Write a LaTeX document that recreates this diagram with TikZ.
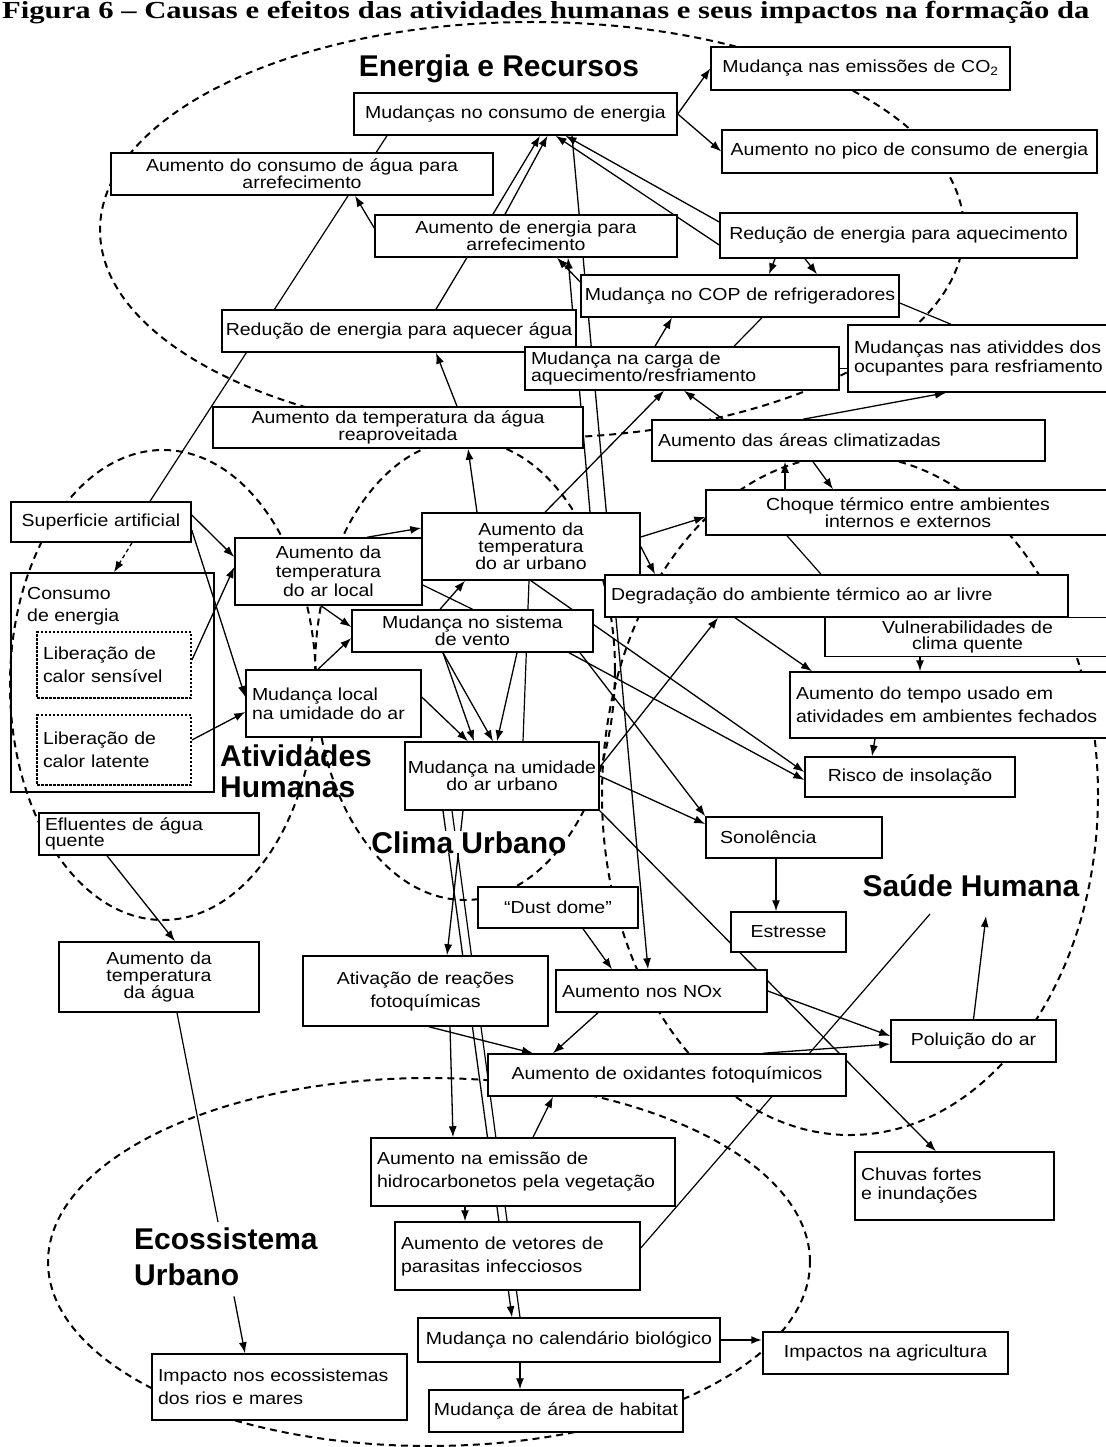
\documentclass[tikz,border=0pt]{standalone}
\usepackage{fontspec}
\setmainfont{Liberation Sans}
\newfontfamily\boxfont{Liberation Sans}[FakeStretch=1.12]
\newfontfamily\capfont{Liberation Serif}[FakeStretch=1.25]
\usetikzlibrary{arrows.meta}
\pgfdeclarelayer{bg}
\pgfsetlayers{bg,main}

\begin{document}
\begin{tikzpicture}[
    x=1pt, y=-1pt,
    box/.style={draw, fill=white, line width=1.5pt, inner xsep=2pt, inner ysep=1pt,
                align=center, font=\boxfont\fontsize{17.4}{19}\selectfont},
    lbox/.style={box, align=left, inner xsep=6pt},
    dotbox/.style={lbox, dash pattern=on 2.5pt off 1.5pt, line width=1.8pt},
    snug/.style={font=\boxfont\fontsize{17.4}{15.5}\selectfont},
    midskip/.style={font=\boxfont\fontsize{17.4}{17}\selectfont},
    airy/.style={font=\boxfont\fontsize{17.4}{23}\selectfont},
    grouplabel/.style={font=\bfseries\fontsize{30}{31}\selectfont, inner sep=0pt, align=left},
    zone/.style={dash pattern=on 7pt off 5pt, line width=2pt},
    arr/.style={-{Latex[length=11pt,width=8pt]}, line width=1.3pt},
    ln/.style={line width=1.2pt}
]
\begin{pgfonlayer}{bg}
\fill[white] (0,0) rectangle (1105,1447);
\end{pgfonlayer}
\useasboundingbox (0,0) rectangle (1105,1447);

\node[font=\capfont\bfseries\fontsize{24.5}{25}\selectfont, anchor=base west, inner sep=0pt] (caption) at (2,19)
  {Figura 6 – Causas e efeitos das atividades humanas e seus impactos na formação da};

% Energia e Recursos
\node[grouplabel, anchor=base] (t_energia) at (499,77) {Energia e Recursos};
\node[box, text width=319pt, minimum height=42pt] (consumo) at (515.5,114) {Mudanças no consumo de energia};
\node[box, text width=295pt, minimum height=43pt] (co2) at (860.5,68.5) {Mudança nas emissões de CO\textsubscript{2}};
\node[box, text width=371pt, minimum height=43pt] (pico) at (909.5,151.5) {Aumento no pico de consumo de energia};
\node[box, snug, text width=378pt, minimum height=42pt] (agua_arref) at (302,174) {Aumento do consumo de água para\\arrefecimento};
\node[box, snug, text width=298pt, minimum height=42pt] (energ_arref) at (526,236) {Aumento de energia para\\arrefecimento};
\node[box, text width=353pt, minimum height=45pt] (red_aquec) at (898.5,235.5) {Redução de energia para aquecimento};
\node[box, text width=314pt, minimum height=42pt] (cop) at (740,296) {Mudança no COP de refrigeradores};
\node[box, text width=350pt, minimum height=42pt] (red_agua) at (399,331) {Redução de energia para aquecer água};
\node[lbox, midskip, text width=302pt, minimum height=43pt] (carga) at (682,368.5) {Mudança na carga de\\aquecimento/resfriamento};
\node[lbox, text width=252pt, minimum height=67pt] (ocup) at (980,358.5) {Mudanças nas atividdes dos\\ocupantes para resfriamento};
\node[box, snug, text width=366pt, minimum height=41pt] (agua_reap) at (398,427.5) {Aumento da temperatura da água\\reaproveitada};
\node[lbox, text width=381pt, minimum height=41pt] (climat) at (848.5,440.5) {Aumento das áreas climatizadas};

% Atividades Humanas
\node[grouplabel, anchor=north west] (t_ativ) at (220,745) {Atividades\\Humanas};
\node[box, text width=176pt, minimum height=40pt] (sup) at (101,522) {Superficie artificial};
\node[draw, line width=1.5pt, minimum width=203pt, minimum height=219pt] (consumo_en) at (112.5,682.5) {};
\node[anchor=north west, align=left, inner sep=0pt, font=\boxfont\fontsize{17.4}{22}\selectfont] (consumo_lbl) at (27,587) {Consumo\\de energia};
\node[dotbox, airy, text width=142pt, minimum height=66pt] (sens) at (114,665) {Liberação de\\calor sensível};
\node[dotbox, airy, text width=142pt, minimum height=70pt] (lat) at (114,750) {Liberação de\\calor latente};
\node[box, text width=183pt, minimum height=67pt] (ar_local) at (328.5,571.5) {Aumento da\\temperatura\\do ar local};
\node[lbox, text width=163pt, minimum height=67pt] (umid_local) at (333.5,703.5) {Mudança local\\na umidade do ar};
\node[lbox, snug, text width=208pt, minimum height=42pt] (efl) at (149,834) {Efluentes de água\\quente};

% Clima Urbano
\node[grouplabel, anchor=base, fill=white] (t_clima) at (469,853) {Clima Urbano};
\node[box, midskip, text width=214pt, minimum height=67pt] (ar_urb) at (531,546.5) {Aumento da\\temperatura\\do ar urbano};
\node[box, snug, text width=237pt, minimum height=42pt] (vento) at (472.5,631) {Mudança no sistema\\de vento};
\node[box, midskip, text width=190pt, minimum height=68pt] (umid_urb) at (502,776) {Mudança na umidade\\do ar urbano};
\node[box, text width=156pt, minimum height=41pt] (dust) at (558,907.5) {“Dust dome”};
\node[box, airy, text width=241pt, minimum height=70pt] (fotoq) at (425.5,991) {Ativação de reações\\fotoquímicas};
\node[lbox, text width=199pt, minimum height=42pt] (nox) at (661.5,991) {Aumento nos NOx};
\node[box, text width=354pt, minimum height=42pt] (oxid) at (667,1075) {Aumento de oxidantes fotoquímicos};

% Saude Humana
\node[grouplabel, anchor=base] (t_saude) at (971,896) {Saúde Humana};
\node[box, snug, text width=400pt, minimum height=45pt] (choque) at (908,512.5) {Choque térmico entre ambientes\\internos e externos};
\node[box, snug, text width=281pt, minimum height=39pt] (vuln) at (967.5,637) {Vulnerabilidades de\\clima quente};
\node[lbox, text width=451pt, minimum height=42pt] (degrad) at (836.5,596) {Degradação do ambiente térmico ao ar livre};
\node[lbox, airy, text width=308pt, minimum height=66pt] (tempo) at (950,705) {Aumento do tempo usado em\\atividades em ambientes fechados};
\node[box, text width=206pt, minimum height=40pt] (risco) at (910,777) {Risco de insolação};
\node[lbox, inner xsep=14pt, text width=148pt, minimum height=41pt] (sono) at (794,837.5) {Sonolência};
\node[box, text width=111pt, minimum height=40pt] (estresse) at (788.5,932) {Estresse};
\node[box, text width=161pt, minimum height=42pt] (polu) at (973.5,1041) {Poluição do ar};
\node[lbox, text width=187pt, minimum height=68pt] (chuvas) at (954.5,1186) {Chuvas fortes\\e inundações};

% Ecossistema Urbano
\node[grouplabel, anchor=north west, font=\bfseries\fontsize{30}{36}\selectfont] (t_eco) at (134,1228) {Ecossistema\\Urbano};
\node[box, midskip, text width=196pt, minimum height=70pt] (agua_temp) at (159,977) {Aumento da\\temperatura\\da água};
\node[lbox, airy, text width=292pt, minimum height=68pt] (hidro) at (523,1172) {Aumento na emissão de\\hidrocarbonetos pela vegetação};
\node[lbox, airy, text width=233pt, minimum height=68pt] (vetores) at (517.5,1256) {Aumento de vetores de\\parasitas infecciosos};
\node[box, text width=298pt, minimum height=44pt] (calend) at (569,1340) {Mudança no calendário biológico};
\node[box, text width=241pt, minimum height=42pt] (agric) at (885.5,1353) {Impactos na agricultura};
\node[lbox, airy, text width=243pt, minimum height=66pt] (rios) at (279.5,1387) {Impacto nos ecossistemas\\dos rios e mares};
\node[box, text width=250pt, minimum height=42pt] (habitat) at (556,1411) {Mudança de área de habitat};

\begin{pgfonlayer}{bg}
% zones
\draw[zone] (532,230) ellipse [x radius=432pt, y radius=208pt];
\draw[zone] (163,685) ellipse [x radius=153pt, y radius=235pt];
\draw[zone] (465,670) ellipse [x radius=150pt, y radius=230pt];
\draw[zone] (850,795) ellipse [x radius=248pt, y radius=340pt];
\draw[zone] (429,1262) ellipse [x radius=381pt, y radius=184pt];

% energia
\draw[arr] (consumo.east) -- (co2.west);
\draw[arr] (consumo.east) -- (pico.west);
\draw[ln] ([xshift=49pt]sup.north) -- ([xshift=-128.5pt]consumo.south);
\draw[arr] ([yshift=8pt]energ_arref.west) -- ([xshift=53pt]agua_arref.south);
\draw[arr] ([xshift=37pt]red_agua.north) -- ([xshift=24.5pt]consumo.south);
\draw[arr] ([xshift=-21pt]energ_arref.north) -- ([xshift=32pt]consumo.south);
\draw[arr] ([yshift=13.5pt]red_aquec.west) -- ([xshift=50pt]consumo.south);
\draw[arr] ([yshift=-9.5pt]red_aquec.west) -- ([xshift=40pt]consumo.south);
\draw[arr] ([xshift=56.5pt]consumo.south) -- ([xshift=-13.5pt]nox.north);
\draw[arr] ([yshift=14pt]cop.west) -- ([xshift=31pt]energ_arref.south);
\draw[arr] ([xshift=-123.5pt]red_aquec.south) -- ([xshift=29pt]cop.north);
\draw[arr] ([xshift=-93.5pt]red_aquec.south) -- ([xshift=77pt]cop.north);
\draw[arr] ([xshift=-27pt]carga.north) -- ([xshift=-68pt]cop.south);
\draw[ln] ([xshift=22pt]cop.south) -- ([xshift=52pt]carga.north);
\draw[ln] ([yshift=-7pt]cop.east) -- ([xshift=-29pt]ocup.north);
\draw[ln] (carga.east) -- (carga.east -| ocup.west);
\draw[arr] ([xshift=-125.5pt]climat.north) -- ([xshift=2pt]carga.south);
\draw[arr] ([xshift=14pt]ar_urb.north) -- ([xshift=-18pt]carga.south);
\draw[arr] ([xshift=-45.5pt]climat.north) -- ([xshift=-34pt]ocup.south);
\draw[arr] ([xshift=-54pt]ar_urb.north) -- ([xshift=70pt]agua_reap.south);
\draw[arr] ([xshift=59pt]agua_reap.north) -- ([xshift=37pt]red_agua.south);
\draw[arr] ([xshift=59pt]ar_urb.north) -- ([xshift=42pt]energ_arref.south);

% atividades humanas
\draw[arr] ([yshift=7pt]sup.east) -- ([yshift=14.5pt]ar_local.west);
\draw[arr] ([yshift=-8pt]sup.east) -- ([yshift=6.5pt]umid_local.west);
\draw[arr, dash pattern=on 4pt off 3pt] ([xshift=31pt]sup.south) -- ([xshift=1.5pt]consumo_en.north);
\draw[arr] ([yshift=5pt]sens.east) -- ([yshift=4.5pt]ar_local.west);
\draw[arr] ([yshift=10pt]lat.east) -- ([yshift=-8.5pt]umid_local.west);
\draw[arr] ([xshift=38.5pt]ar_local.north) -- ([yshift=18.5pt]ar_urb.west);
\draw[arr] ([xshift=-7.5pt]ar_local.south) -- ([yshift=4pt]vento.west);
\draw[arr] ([xshift=-15.5pt]umid_local.north) -- ([yshift=-7pt]vento.west);
\draw[arr] ([xshift=-32.5pt]vento.north) -- ([xshift=-66pt]ar_urb.south);
\draw[ln] ([yshift=-13.5pt]ar_local.east) -- (vento.north);
\draw[arr] ([yshift=6.5pt]umid_local.east) -- ([xshift=-34pt]umid_urb.north);

% clima urbano
\draw[arr] (ar_urb.south) -- ([yshift=5pt]risco.west);
\draw[arr] ([xshift=96.5pt]vento.south) -- ([yshift=-3pt]risco.west);
\draw[ln] ([xshift=-2pt]ar_urb.south) -- ([xshift=21pt]umid_urb.north);
\draw[arr] ([xshift=-29.5pt]vento.south) -- ([xshift=-28pt]umid_urb.north);
\draw[arr] ([xshift=-29.5pt]vento.south) -- ([xshift=-9pt]umid_urb.north);
\draw[arr] ([xshift=44.5pt]vento.south) -- ([xshift=-5pt]umid_urb.north);
\draw[arr] ([xshift=107.5pt]vento.south) -- (sono.north west);
\draw[arr] (umid_urb.east) -- ([yshift=13.5pt]sono.west);
\draw[arr] ([yshift=9pt]umid_urb.east) -- ([xshift=-118.5pt]degrad.south);
\draw[arr] (umid_urb.south east) -- ([xshift=-18.5pt]chuvas.north);
\draw[arr] ([xshift=-39pt]umid_urb.south) -- ([xshift=21.5pt]fotoq.north);
\draw[arr] ([xshift=-59pt]umid_urb.south) -- ([xshift=-57pt]calend.north);
\draw[ln] ([xshift=-50pt]umid_urb.south) -- ([xshift=-49pt]calend.north);
\draw[arr] ([xshift=24.5pt]fotoq.south) -- ([xshift=-70pt]hidro.north);
\draw[arr] ([xshift=3.5pt]fotoq.south) -- ([xshift=-134pt]oxid.north);
\draw[arr] ([xshift=25pt]dust.south) -- ([xshift=-49.5pt]nox.north);
\draw[arr] ([xshift=-63.5pt]nox.south) -- ([xshift=-114pt]oxid.north);
\draw[arr] (nox.east) -- ([yshift=5pt]polu.west);
\draw[arr] ([xshift=96pt]oxid.north) -- ([yshift=-3pt]polu.west);

% saude humana
\draw[arr] ([yshift=9.5pt]ar_urb.east) -- ([yshift=-4.5pt]choque.west);
\draw[arr] (ar_urb.east) -- ([xshift=-181.5pt]degrad.north);
\draw[arr] ([xshift=-35.5pt]climat.south) -- ([xshift=-75pt]choque.north);
\draw[arr] ([xshift=-123pt]choque.north) -- ([xshift=-63.5pt]climat.south);
\draw[ln] ([xshift=-121pt]choque.south) -- ([xshift=-15.5pt]degrad.north);
\draw[arr] ([xshift=-101.5pt]degrad.south) -- ([xshift=-138pt]tempo.north);
\draw[arr] ([xshift=-47.5pt]vuln.south) -- ([xshift=-30pt]tempo.north);
\draw[arr] ([xshift=-75pt]tempo.south) -- ([xshift=-38pt]risco.north);
\draw[arr] ([xshift=-18pt]sono.south) -- ([xshift=-12.5pt]estresse.north);
\draw[arr] (polu.north) -- ([xshift=15pt, yshift=-20pt]t_saude.base);
\coordinate (saude_pt) at (930,914);
\draw[ln] ([yshift=8pt]vetores.east) -- (saude_pt);

% ecossistema urbano
\draw[arr] ([xshift=-42pt]efl.south) -- ([xshift=16pt]agua_temp.north);
\draw[ln] ([xshift=18pt]agua_temp.south) -- ([xshift=84pt, yshift=6pt]t_eco.north west);
\draw[arr] ([xshift=100pt, yshift=-10pt]t_eco.south west) -- ([xshift=-34.5pt]rios.north);
\draw[arr] ([xshift=-58pt]hidro.south) -- ([xshift=-52.5pt]vetores.north);
\draw[arr] ([xshift=10pt]hidro.north) -- ([xshift=-114pt]oxid.south);
\draw[arr] ([xshift=-49pt]calend.south) -- ([xshift=-36pt]habitat.north);
\draw[arr, line width=2pt] (calend.east) -- (calend.east -| agric.west);
\end{pgfonlayer}
\end{tikzpicture}
\end{document}
